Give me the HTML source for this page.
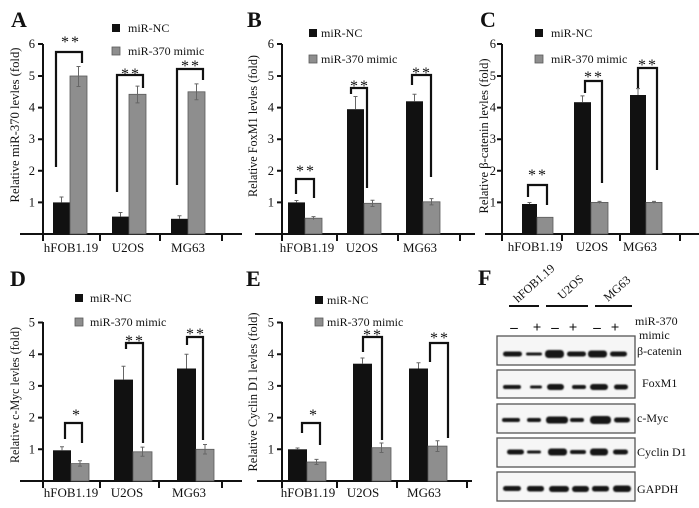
<!DOCTYPE html>
<html><head><meta charset="utf-8"><style>
html,body{margin:0;padding:0;background:#fff;}
svg{display:block;}
text{font-family:"Liberation Serif",serif;fill:#111;}
.t{font-size:12.5px;text-anchor:end;}
.xl{font-size:13px;text-anchor:middle;}
.lg{font-size:12px;}
.yl{font-size:12.5px;text-anchor:middle;}
.L{font-size:22px;font-weight:bold;}
.st{font-size:16px;text-anchor:middle;letter-spacing:2px;}
.ax{stroke:#111;stroke-width:2;fill:none;}
.br{stroke:#111;stroke-width:2.2;fill:none;}
.eb{stroke:#666;stroke-width:1;fill:none;}
.k{fill:#111;}
.g{fill:#8e8e8e;stroke:#5a5a5a;stroke-width:0.8;}
.bx{fill:#f6f6f6;stroke:#555;stroke-width:1.3;}
.bd{fill:#151515;filter:url(#bl);}
</style></head><body>
<svg width="699" height="508" viewBox="0 0 699 508" xmlns="http://www.w3.org/2000/svg">
<defs><filter id="bl" x="-20%" y="-60%" width="140%" height="220%"><feGaussianBlur stdDeviation="0.9"/></filter></defs>
<rect width="699" height="508" fill="#fff"/>

<!-- ========== PANEL A ========== -->
<text class="L" x="11" y="27">A</text>
<rect class="k" x="112" y="24" width="8" height="8"/><text class="lg" x="128" y="32">miR-NC</text>
<rect class="g" x="112" y="47" width="8" height="8"/><text class="lg" x="128" y="55">miR-370 mimic</text>
<path class="ax" d="M43 44V241 M20 234H242 M100 234V241 M160 234V241 M222 234V241 M38 44H43 M38 76H43 M38 107.6H43 M38 139.2H43 M38 170.8H43 M38 202.4H43"/>
<text class="t" x="35" y="48">6</text><text class="t" x="35" y="80">5</text><text class="t" x="35" y="111.6">4</text><text class="t" x="35" y="143.2">3</text><text class="t" x="35" y="174.8">2</text><text class="t" x="35" y="206.4">1</text>
<text class="yl" transform="translate(19,125) rotate(-90)" textLength="155" lengthAdjust="spacingAndGlyphs">Relative miR-370 levles (fold)</text>
<rect class="k" x="53" y="202.4" width="17" height="31.6"/><rect class="g" x="70" y="76" width="17" height="158"/>
<rect class="k" x="112" y="216.6" width="17" height="17.4"/><rect class="g" x="129" y="94.3" width="17" height="139.7"/>
<rect class="k" x="171" y="218.8" width="17" height="15.2"/><rect class="g" x="188" y="91.8" width="17" height="142.2"/>
<path class="eb" d="M61.5 202.4V197 M59.5 197H63.5 M78.5 86.5V66.5 M76.5 66.5H80.5 M76.5 86.5H80.5 M120.5 216.6V212.5 M118.5 212.5H122.5 M137.5 102.9V86.1 M135.5 86.1H139.5 M135.5 102.9H139.5 M179.5 218.8V215.7 M177.5 215.7H181.5 M196.5 99.7V83.9 M194.5 83.9H198.5 M194.5 99.7H198.5"/>
<path class="br" d="M56 167V52H82V63 M117 192V75H143V88 M177 185V69H203V80"/>
<text class="st" x="71" y="47">**</text><text class="st" x="131" y="79">**</text><text class="st" x="191" y="71">**</text>
<text class="xl" x="71" y="252">hFOB1.19</text><text class="xl" x="128" y="252">U2OS</text><text class="xl" x="188" y="252">MG63</text>

<!-- ========== PANEL B ========== -->
<text class="L" x="247" y="27">B</text>
<rect class="k" x="309" y="29" width="8" height="8"/><text class="lg" x="321" y="37">miR-NC</text>
<rect class="g" x="309" y="55" width="8" height="8"/><text class="lg" x="321" y="63">miR-370 mimic</text>
<path class="ax" d="M282 44V241 M255 234H475 M337 234V241 M398 234V241 M460 234V241 M277 44H282 M277 76H282 M277 107.6H282 M277 139.2H282 M277 170.8H282 M277 202.4H282"/>
<text class="t" x="274" y="48">6</text><text class="t" x="274" y="80">5</text><text class="t" x="274" y="111.6">4</text><text class="t" x="274" y="143.2">3</text><text class="t" x="274" y="174.8">2</text><text class="t" x="274" y="206.4">1</text>
<text class="yl" transform="translate(257,126) rotate(-90)" textLength="142" lengthAdjust="spacingAndGlyphs">Relative FoxM1 levles (fold)</text>
<rect class="k" x="288" y="202.4" width="17" height="31.6"/><rect class="g" x="305" y="218.2" width="17" height="15.8"/>
<rect class="k" x="347" y="109.2" width="17" height="124.8"/><rect class="g" x="364" y="203.3" width="17" height="30.7"/>
<rect class="k" x="406" y="101.3" width="17" height="132.7"/><rect class="g" x="423" y="201.8" width="17" height="32.2"/>
<path class="eb" d="M296.5 202.4V200.5 M294.5 200.5H298.5 M313.5 219.8V216.6 M311.5 216.6H315.5 M355.5 109.2V96.5 M353.5 96.5H357.5 M372.5 206.5V200.2 M370.5 200.2H374.5 M370.5 206.5H374.5 M414.5 101.3V94.3 M412.5 94.3H416.5 M431.5 204.9V198.6 M429.5 198.6H433.5 M429.5 204.9H433.5"/>
<path class="br" d="M296 194V179H314V198 M351 94V88H367V188 M412 85V75H431V177"/>
<text class="st" x="306" y="176">**</text><text class="st" x="360" y="91">**</text><text class="st" x="422" y="78">**</text>
<text class="xl" x="307" y="252">hFOB1.19</text><text class="xl" x="362" y="252">U2OS</text><text class="xl" x="420" y="252">MG63</text>

<!-- ========== PANEL C ========== -->
<text class="L" x="480" y="27">C</text>
<rect class="k" x="535" y="29" width="8" height="8"/><text class="lg" x="551" y="37">miR-NC</text>
<rect class="g" x="535" y="55" width="8" height="8"/><text class="lg" x="551" y="63">miR-370 mimic</text>
<path class="ax" d="M502 44V241 M485 234H699 M562 234V241 M620 234V241 M680 234V241 M497 44H502 M497 76H502 M497 107.6H502 M497 139.2H502 M497 170.8H502 M497 202.4H502"/>
<text class="t" x="496" y="48">6</text><text class="t" x="496" y="80">5</text><text class="t" x="496" y="111.6">4</text><text class="t" x="496" y="143.2">3</text><text class="t" x="496" y="174.8">2</text><text class="t" x="496" y="206.4">1</text>
<text class="yl" transform="translate(488,136) rotate(-90)" textLength="155" lengthAdjust="spacingAndGlyphs">Relative β-catenin levles (fold)</text>
<rect class="k" x="522" y="204" width="15" height="30"/><rect class="g" x="537" y="217.3" width="16" height="16.7"/>
<rect class="k" x="574" y="102.2" width="17" height="131.8"/><rect class="g" x="591" y="202.4" width="17" height="31.6"/>
<rect class="k" x="630" y="95" width="16" height="139"/><rect class="g" x="646" y="202.4" width="16" height="31.6"/>
<path class="eb" d="M529.5 204V202.5 M527.5 202.5H531.5 M582.5 102.2V95.9 M580.5 95.9H584.5 M599.5 203.5V201.4 M597.5 201.4H601.5 M638 95V88.6 M636 88.6H640 M654 203.5V201.4 M652 201.4H656"/>
<path class="br" d="M528 197V185H547V205 M585 93V81H602V183 M638 88V68H657V170"/>
<text class="st" x="538" y="180">**</text><text class="st" x="594" y="82">**</text><text class="st" x="648" y="70">**</text>
<text class="xl" x="535" y="251">hFOB1.19</text><text class="xl" x="592" y="251">U2OS</text><text class="xl" x="640" y="251">MG63</text>

<!-- ========== PANEL D ========== -->
<text class="L" x="10" y="286">D</text>
<rect class="k" x="75" y="294" width="8" height="8"/><text class="lg" x="90" y="302">miR-NC</text>
<rect class="g" x="75" y="318" width="8" height="8"/><text class="lg" x="90" y="326">miR-370 mimic</text>
<path class="ax" d="M43 322V488 M20 481H242 M100 481V488 M159 481V488 M222 481V488 M38 322.5H43 M38 354.2H43 M38 385.9H43 M38 417.6H43 M38 449.3H43"/>
<text class="t" x="35" y="326.5">5</text><text class="t" x="35" y="358.2">4</text><text class="t" x="35" y="389.9">3</text><text class="t" x="35" y="421.6">2</text><text class="t" x="35" y="453.3">1</text>
<text class="yl" transform="translate(19,395) rotate(-90)" textLength="136" lengthAdjust="spacingAndGlyphs">Relative c-Myc levles (fold)</text>
<rect class="k" x="53" y="450.3" width="18" height="30.7"/><rect class="g" x="71" y="463.6" width="18" height="17.4"/>
<rect class="k" x="114" y="379.6" width="19" height="101.4"/><rect class="g" x="133" y="451.8" width="19" height="29.2"/>
<rect class="k" x="177" y="368.5" width="19" height="112.5"/><rect class="g" x="196" y="449.3" width="18" height="31.7"/>
<path class="eb" d="M62 450.3V446.8 M60 446.8H64 M80 466.1V460.7 M78 460.7H82 M78 466.1H82 M123.5 379.6V366.2 M121.5 366.2H125.5 M142.5 456.3V447.1 M140.5 447.1H144.5 M140.5 456.3H144.5 M186.5 368.5V354.2 M184.5 354.2H188.5 M205 454V444.5 M203 444.5H207 M203 454H207"/>
<path class="br" d="M65 439V423H82V443 M126 349V343H143V443 M187 345V337H203V440"/>
<text class="st" x="77" y="420">*</text><text class="st" x="135" y="346">**</text><text class="st" x="196" y="339">**</text>
<text class="xl" x="71" y="497">hFOB1.19</text><text class="xl" x="127" y="497">U2OS</text><text class="xl" x="189" y="497">MG63</text>

<!-- ========== PANEL E ========== -->
<text class="L" x="246" y="286">E</text>
<rect class="k" x="315" y="296" width="8" height="8"/><text class="lg" x="327" y="304">miR-NC</text>
<rect class="g" x="315" y="318" width="8" height="8"/><text class="lg" x="327" y="326">miR-370 mimic</text>
<path class="ax" d="M282 322V488 M257 481H472 M337 481V488 M397 481V488 M467 481V488 M277 322.5H282 M277 354.2H282 M277 385.9H282 M277 417.6H282 M277 449.3H282"/>
<text class="t" x="274" y="326.5">5</text><text class="t" x="274" y="358.2">4</text><text class="t" x="274" y="389.9">3</text><text class="t" x="274" y="421.6">2</text><text class="t" x="274" y="453.3">1</text>
<text class="yl" transform="translate(257,392) rotate(-90)" textLength="159" lengthAdjust="spacingAndGlyphs">Relative Cyclin D1 levles (fold)</text>
<rect class="k" x="288" y="449.3" width="19" height="31.7"/><rect class="g" x="307" y="462" width="19" height="19"/>
<rect class="k" x="353" y="363.7" width="19" height="117.3"/><rect class="g" x="372" y="447.7" width="19" height="33.3"/>
<rect class="k" x="409" y="368.5" width="19" height="112.5"/><rect class="g" x="428" y="446.1" width="19" height="34.9"/>
<path class="eb" d="M297.5 449.3V448 M295.5 448H299.5 M316.5 464.5V459.4 M314.5 459.4H318.5 M314.5 464.5H318.5 M362.5 363.7V358 M360.5 358H364.5 M381.5 452.5V443 M379.5 443H383.5 M379.5 452.5H383.5 M418.5 368.5V362.8 M416.5 362.8H420.5 M437.5 451.5V440.7 M435.5 440.7H439.5 M435.5 451.5H439.5"/>
<path class="br" d="M302 433V423H320V445 M363 352V337H382V440 M430 362V343H448V438"/>
<text class="st" x="314" y="420">*</text><text class="st" x="373" y="340">**</text><text class="st" x="440" y="343">**</text>
<text class="xl" x="308" y="497">hFOB1.19</text><text class="xl" x="363" y="497">U2OS</text><text class="xl" x="424" y="497">MG63</text>

<!-- ========== PANEL F ========== -->
<text class="L" x="478" y="285">F</text>
<text class="lg" transform="translate(518,303) rotate(-42)">hFOB1.19</text>
<text class="lg" transform="translate(562,300) rotate(-42)">U2OS</text>
<text class="lg" transform="translate(608,302) rotate(-42)">MG63</text>
<path d="M509 306H539 M546 306H588 M595 306H632" stroke="#111" stroke-width="2" fill="none"/>
<g font-size="15" text-anchor="middle" font-weight="bold">
<text x="514" y="332">–</text><text x="537" y="332">+</text><text x="555" y="332">–</text><text x="573" y="332">+</text><text x="597" y="332">–</text><text x="615" y="332">+</text>
</g>
<text class="lg" x="635" y="325">miR-370</text>
<text class="lg" x="639" y="339">mimic</text>

<rect class="bx" x="497" y="336" width="138" height="29"/>
<rect class="bx" x="497" y="370" width="138" height="28"/>
<rect class="bx" x="497" y="404" width="138" height="29"/>
<rect class="bx" x="497" y="438" width="138" height="29"/>
<rect class="bx" x="497" y="472" width="138" height="29"/>

<!-- bands -->
<rect class="bd" x="503" y="351.5" width="19" height="5" rx="2.5"/>
<rect class="bd" x="526" y="352.5" width="16" height="3" rx="1.5"/>
<rect class="bd" x="545" y="350" width="19" height="8" rx="3.5"/>
<rect class="bd" x="567" y="351.5" width="19" height="5" rx="2.5"/>
<rect class="bd" x="588" y="350.5" width="19" height="7" rx="3"/>
<rect class="bd" x="610" y="351.5" width="17" height="5" rx="2.5"/>

<rect class="bd" x="503" y="385" width="18" height="4" rx="2"/>
<rect class="bd" x="530" y="385.5" width="12" height="3" rx="1.5"/>
<rect class="bd" x="547" y="384" width="17" height="6" rx="3"/>
<rect class="bd" x="572" y="385" width="14" height="4" rx="2"/>
<rect class="bd" x="590" y="384" width="18" height="6" rx="3"/>
<rect class="bd" x="614" y="384.5" width="14" height="5" rx="2.5"/>

<rect class="bd" x="502" y="418" width="18" height="4" rx="2"/>
<rect class="bd" x="527" y="418" width="14" height="4" rx="2"/>
<rect class="bd" x="546" y="416.5" width="22" height="7" rx="3"/>
<rect class="bd" x="570" y="418" width="14" height="4" rx="2"/>
<rect class="bd" x="590" y="416" width="21" height="8" rx="3.5"/>
<rect class="bd" x="614" y="417.5" width="16" height="5" rx="2.5"/>

<rect class="bd" x="507" y="449.5" width="17" height="5" rx="2.5"/>
<rect class="bd" x="527" y="450.5" width="14" height="3" rx="1.5"/>
<rect class="bd" x="548" y="448.5" width="19" height="7" rx="3"/>
<rect class="bd" x="570" y="450" width="16" height="4" rx="2"/>
<rect class="bd" x="590" y="448.5" width="18" height="7" rx="3"/>
<rect class="bd" x="613" y="449.5" width="15" height="5" rx="2.5"/>

<rect class="bd" x="503" y="486" width="18" height="5" rx="2.5"/>
<rect class="bd" x="527" y="486" width="17" height="5.5" rx="2.5"/>
<rect class="bd" x="549" y="486" width="20" height="6" rx="3"/>
<rect class="bd" x="572" y="486" width="17" height="6" rx="3"/>
<rect class="bd" x="592" y="486" width="17" height="5.5" rx="2.5"/>
<rect class="bd" x="613" y="485.5" width="18" height="6.5" rx="3"/>

<text class="lg" x="637" y="355">β-catenin</text>
<text class="lg" x="642" y="387">FoxM1</text>
<text class="lg" x="637" y="422">c-Myc</text>
<text class="lg" x="637" y="456">Cyclin D1</text>
<text class="lg" x="637" y="493">GAPDH</text>
</svg>
</body></html>
